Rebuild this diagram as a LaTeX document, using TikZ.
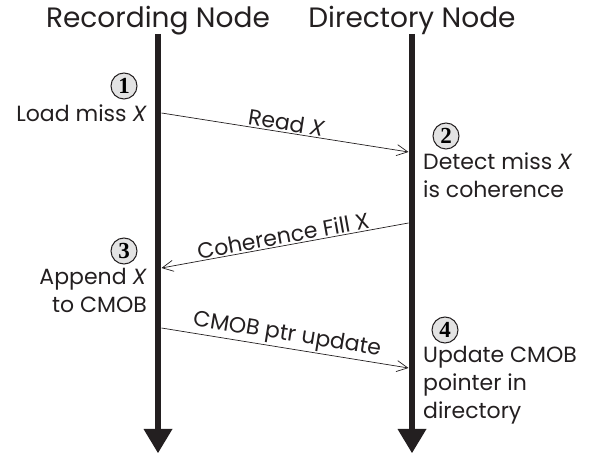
\documentclass[tikz,border=0pt]{standalone}
\usepackage{fontspec}
\setmainfont{Poppins}
\newfontfamily\numfont{Liberation Serif}
\usetikzlibrary{arrows.meta}
\definecolor{ink}{HTML}{231F20}
\begin{document}
\begin{tikzpicture}[x=1pt,y=-1pt,
  title/.style={font=\fontsize{28}{30}\selectfont, anchor=base, text=ink, inner sep=0pt},
  lbl/.style={font=\fontsize{22}{28}\selectfont, inner sep=0pt, text=ink},
  num/.style={circle, draw=ink, line width=1pt, fill=gray!22, inner sep=0pt, minimum size=26pt, font=\fontsize{23}{23}\numfont\bfseries},
  timeline/.style={line width=6.5pt, draw=ink},
  tiphead/.style={fill=ink, draw=none},
  msg/.style={line width=0.7pt, draw=ink, -{Straight Barb[length=11pt,width=11pt]}},
  msgrev/.style={line width=0.7pt, draw=ink, {Straight Barb[length=11pt,width=11pt]}-},
  msglbl/.style={font=\fontsize{22}{24}\selectfont, sloped, above, inner sep=1.5pt, text=ink}
]
\useasboundingbox (0,0) rectangle (595,454);

% timelines
\coordinate (Ltop) at (158,34);
\coordinate (Lbot) at (158,431);
\coordinate (Rtop) at (412,34);
\coordinate (Rbot) at (412,431);
\node[title] (tL) at (158,28) {Recording Node};
\node[title] (tR) at (412,28) {Directory Node};
\draw[timeline] (Ltop) -- (Lbot);
\draw[timeline] (Rtop) -- (Rbot);
\fill[tiphead] (143.5,429) -- (172.5,429) -- (158,453) -- cycle;
\fill[tiphead] (397.5,429) -- (426.5,429) -- (412,453) -- cycle;

% step 1
\node[num] (n1) at (124,86) {1};
\node[lbl, anchor=base east] (s1) at (147,122) {Load miss \textit{X}};
% step 2
\node[num] (n2) at (446,136) {2};
\node[lbl, anchor=base west, align=left] (s2) at (423,198) {Detect miss \textit{X}\\is coherence};
% step 3
\node[num] (n3) at (124,251) {3};
\node[lbl, anchor=base east, align=right] (s3) at (147,313) {Append \textit{X}\\to CMOB};
% step 4
\node[num] (n4) at (445,330) {4};
\node[lbl, anchor=base west, align=left] (s4) at (423,419) {Update CMOB\\pointer in\\directory};

% messages
\coordinate (a1) at (161.5,113);
\coordinate (b1) at (408.5,152);
\coordinate (b2) at (408.5,223);
\coordinate (a2) at (161.5,268);
\coordinate (a3) at (161.5,328);
\coordinate (b3) at (408.5,368);
\draw[msg] (a1) -- node[msglbl] (m1) {Read \textit{X}} (b1);
\draw[msgrev] (a2) -- node[msglbl] (m2) {Coherence Fill X} (b2);
\draw[msg] (a3) -- node[msglbl] (m3) {CMOB ptr update} (b3);
\end{tikzpicture}
\end{document}
